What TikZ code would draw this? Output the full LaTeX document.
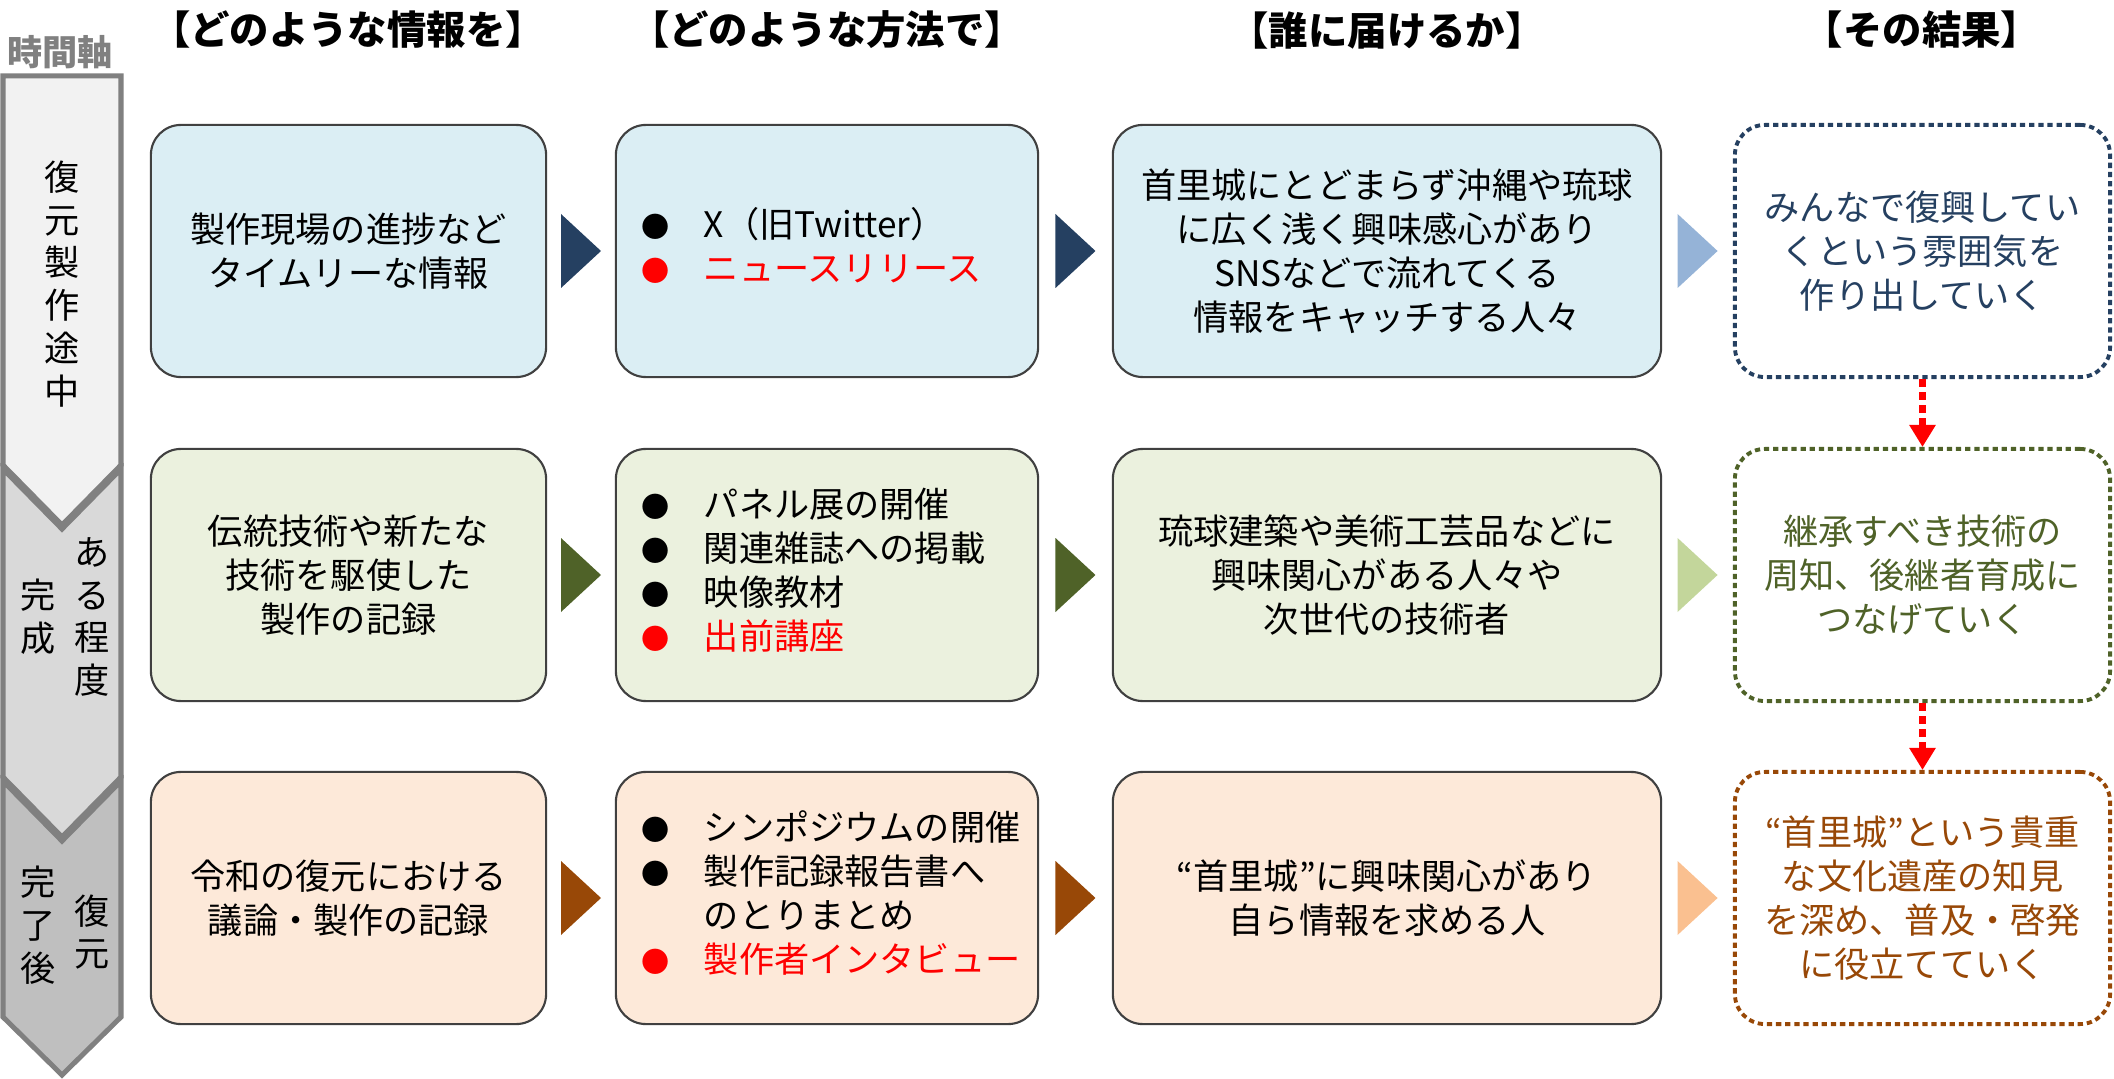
\documentclass[tikz,border=0pt]{standalone}
\usepackage{fontspec}
\setmainfont{Noto Sans CJK JP}
\usetikzlibrary{arrows.meta,calc}

\definecolor{navyc}{HTML}{254061}
\definecolor{olivec}{HTML}{4F6228}
\definecolor{brownc}{HTML}{984807}
\definecolor{lnavy}{HTML}{95B3D7}
\definecolor{lolive}{HTML}{C3D69B}
\definecolor{lbrown}{HTML}{FAC090}
\definecolor{fillblue}{HTML}{DBEEF4}
\definecolor{fillgreen}{HTML}{EBF1DE}
\definecolor{fillpeach}{HTML}{FDE9D9}
\definecolor{axisgray}{HTML}{808080}
\definecolor{axisA}{HTML}{F2F2F2}
\definecolor{axisB}{HTML}{D9D9D9}
\definecolor{axisC}{HTML}{BFBFBF}

\newcommand{\blackdot}{\makebox[0.35cm]{\fontsize{8}{8}\selectfont ●}}
\newcommand{\reddot}{\makebox[0.35cm]{\fontsize{8}{8}\selectfont\textcolor{red}{●}}}

\begin{document}
\begin{tikzpicture}[x=0.01cm, y=-0.01cm,
    box/.style={draw=black!75, line width=0.6pt, rounded corners=0.3cm, minimum height=2.52cm, align=center, font=\fontsize{10}{12.5}\selectfont},
    listbox/.style={box, text width=3.78cm, inner xsep=0.22cm, align=left},
    resbox/.style={draw=#1, text=#1, fill=white, line width=1.1pt, dash pattern=on 1.5pt off 1.1pt, rounded corners=0.3cm, minimum width=3.75cm, minimum height=2.52cm, align=center, font=\fontsize{10}{12.5}\selectfont},
    head/.style={font=\fontsize{11.2}{13}\selectfont\bfseries},
    axisbox/.style={draw=axisgray, line width=0.05cm, line join=miter},
    vtext/.style={align=center, inner sep=0pt, font=\fontsize{10}{12.2}\selectfont},
    redarrow/.style={draw=red, line width=0.07cm, dash pattern=on 0.08cm off 0.05cm, -{Triangle[width=0.25cm,length=0.22cm]}}
]
    \useasboundingbox (0,0) rectangle (2114,1079);

    % time axis
    \draw[axisbox, fill=axisC] (3,781) -- (62,841) -- (121,781) -- (121,1017) -- (62,1075) -- (3,1017) -- cycle;
    \draw[axisbox, fill=axisB] (3,469) -- (62,529) -- (121,469) -- (121,777) -- (62,837) -- (3,777) -- cycle;
    \draw[axisbox, fill=axisA] (3,76) -- (121,76) -- (121,465) -- (62,525) -- (3,465) -- cycle;
    \node[head, text=axisgray, font=\fontsize{10}{12}\selectfont\bfseries] (axistitle) at (60,52) {時間軸};
    \node[vtext] (axis1) at (62,284) {復\\元\\製\\作\\途\\中};
    \node[vtext] (axis2r) at (92,617) {あ\\る\\程\\度};
    \node[vtext] (axis2l) at (38,617) {完\\成};
    \node[vtext] (axis3r) at (92,932) {復\\元};
    \node[vtext] (axis3l) at (38,925) {完\\了\\後};

    % column heads
    \node[head] (headinfo) at (348,30) {【どのような情報を】};
    \node[head] (headhow) at (827,30) {【どのような方法で】};
    \node[head] (headwho) at (1387,30) {【誰に届けるか】};
    \node[head] (headres) at (1922,30) {【その結果】};

    % row 1
    \node[box, fill=fillblue, minimum width=3.95cm] (info1) at (348.5,251) {製作現場の進捗など\\タイムリーな情報};
    \node[listbox, fill=fillblue] (how1) at (827,251)
        {\begin{tabular}{@{}c@{\hspace{0.31cm}}l@{}} \blackdot & X（旧Twitter） \\ \reddot & \textcolor{red}{ニュースリリース} \end{tabular}};
    \node[box, fill=fillblue, minimum width=5.48cm] (who1) at (1387,251) {首里城にとどまらず沖縄や琉球\\に広く浅く興味感心があり\\SNSなどで流れてくる\\情報をキャッチする人々};
    \node[resbox=navyc] (res1) at (1922.5,251) {みんなで復興してい\\くという雰囲気を\\作り出していく};

    % row 2
    \node[box, fill=fillgreen, minimum width=3.95cm] (info2) at (348.5,575) {伝統技術や新たな\\技術を駆使した\\製作の記録};
    \node[listbox, fill=fillgreen] (how2) at (827,575)
        {\begin{tabular}{@{}c@{\hspace{0.31cm}}l@{}} \blackdot & パネル展の開催 \\ \blackdot & 関連雑誌への掲載 \\ \blackdot & 映像教材 \\ \reddot & \textcolor{red}{出前講座} \end{tabular}};
    \node[box, fill=fillgreen, minimum width=5.48cm] (who2) at (1387,575) {琉球建築や美術工芸品などに\\興味関心がある人々や\\次世代の技術者};
    \node[resbox=olivec] (res2) at (1922.5,575) {継承すべき技術の\\周知、後継者育成に\\つなげていく};

    % row 3
    \node[box, fill=fillpeach, minimum width=3.95cm] (info3) at (348.5,898) {令和の復元における\\議論・製作の記録};
    \node[listbox, fill=fillpeach] (how3) at (827,898)
        {\begin{tabular}{@{}c@{\hspace{0.31cm}}l@{}} \blackdot & シンポジウムの開催 \\ \blackdot & 製作記録報告書へ \\ & のとりまとめ \\ \reddot & \textcolor{red}{製作者インタビュー} \end{tabular}};
    \node[box, fill=fillpeach, minimum width=5.48cm] (who3) at (1387,898) {“首里城”に興味関心があり\\自ら情報を求める人};
    \node[resbox=brownc] (res3) at (1922.5,898) {“首里城”という貴重\\な文化遺産の知見\\を深め、普及・啓発\\に役立てていく};

    % triangles between the boxes
    \fill[navyc] ($(info1.east)!.5!(how1.west)+(-20,-37)$) -- ++(40,37) -- ++(-40,37) -- cycle;
    \fill[navyc] ($(how1.east)!.5!(who1.west)+(-20,-37)$) -- ++(40,37) -- ++(-40,37) -- cycle;
    \fill[lnavy] ($(who1.east)!.5!(res1.west)+(-20,-37)$) -- ++(40,37) -- ++(-40,37) -- cycle;
    \fill[olivec] ($(info2.east)!.5!(how2.west)+(-20,-37)$) -- ++(40,37) -- ++(-40,37) -- cycle;
    \fill[olivec] ($(how2.east)!.5!(who2.west)+(-20,-37)$) -- ++(40,37) -- ++(-40,37) -- cycle;
    \fill[lolive] ($(who2.east)!.5!(res2.west)+(-20,-37)$) -- ++(40,37) -- ++(-40,37) -- cycle;
    \fill[brownc] ($(info3.east)!.5!(how3.west)+(-20,-37)$) -- ++(40,37) -- ++(-40,37) -- cycle;
    \fill[brownc] ($(how3.east)!.5!(who3.west)+(-20,-37)$) -- ++(40,37) -- ++(-40,37) -- cycle;
    \fill[lbrown] ($(who3.east)!.5!(res3.west)+(-20,-37)$) -- ++(40,37) -- ++(-40,37) -- cycle;

    % result flow
    \draw[redarrow] (res1.south) -- (res2.north);
    \draw[redarrow] (res2.south) -- (res3.north);
\end{tikzpicture}
\end{document}
